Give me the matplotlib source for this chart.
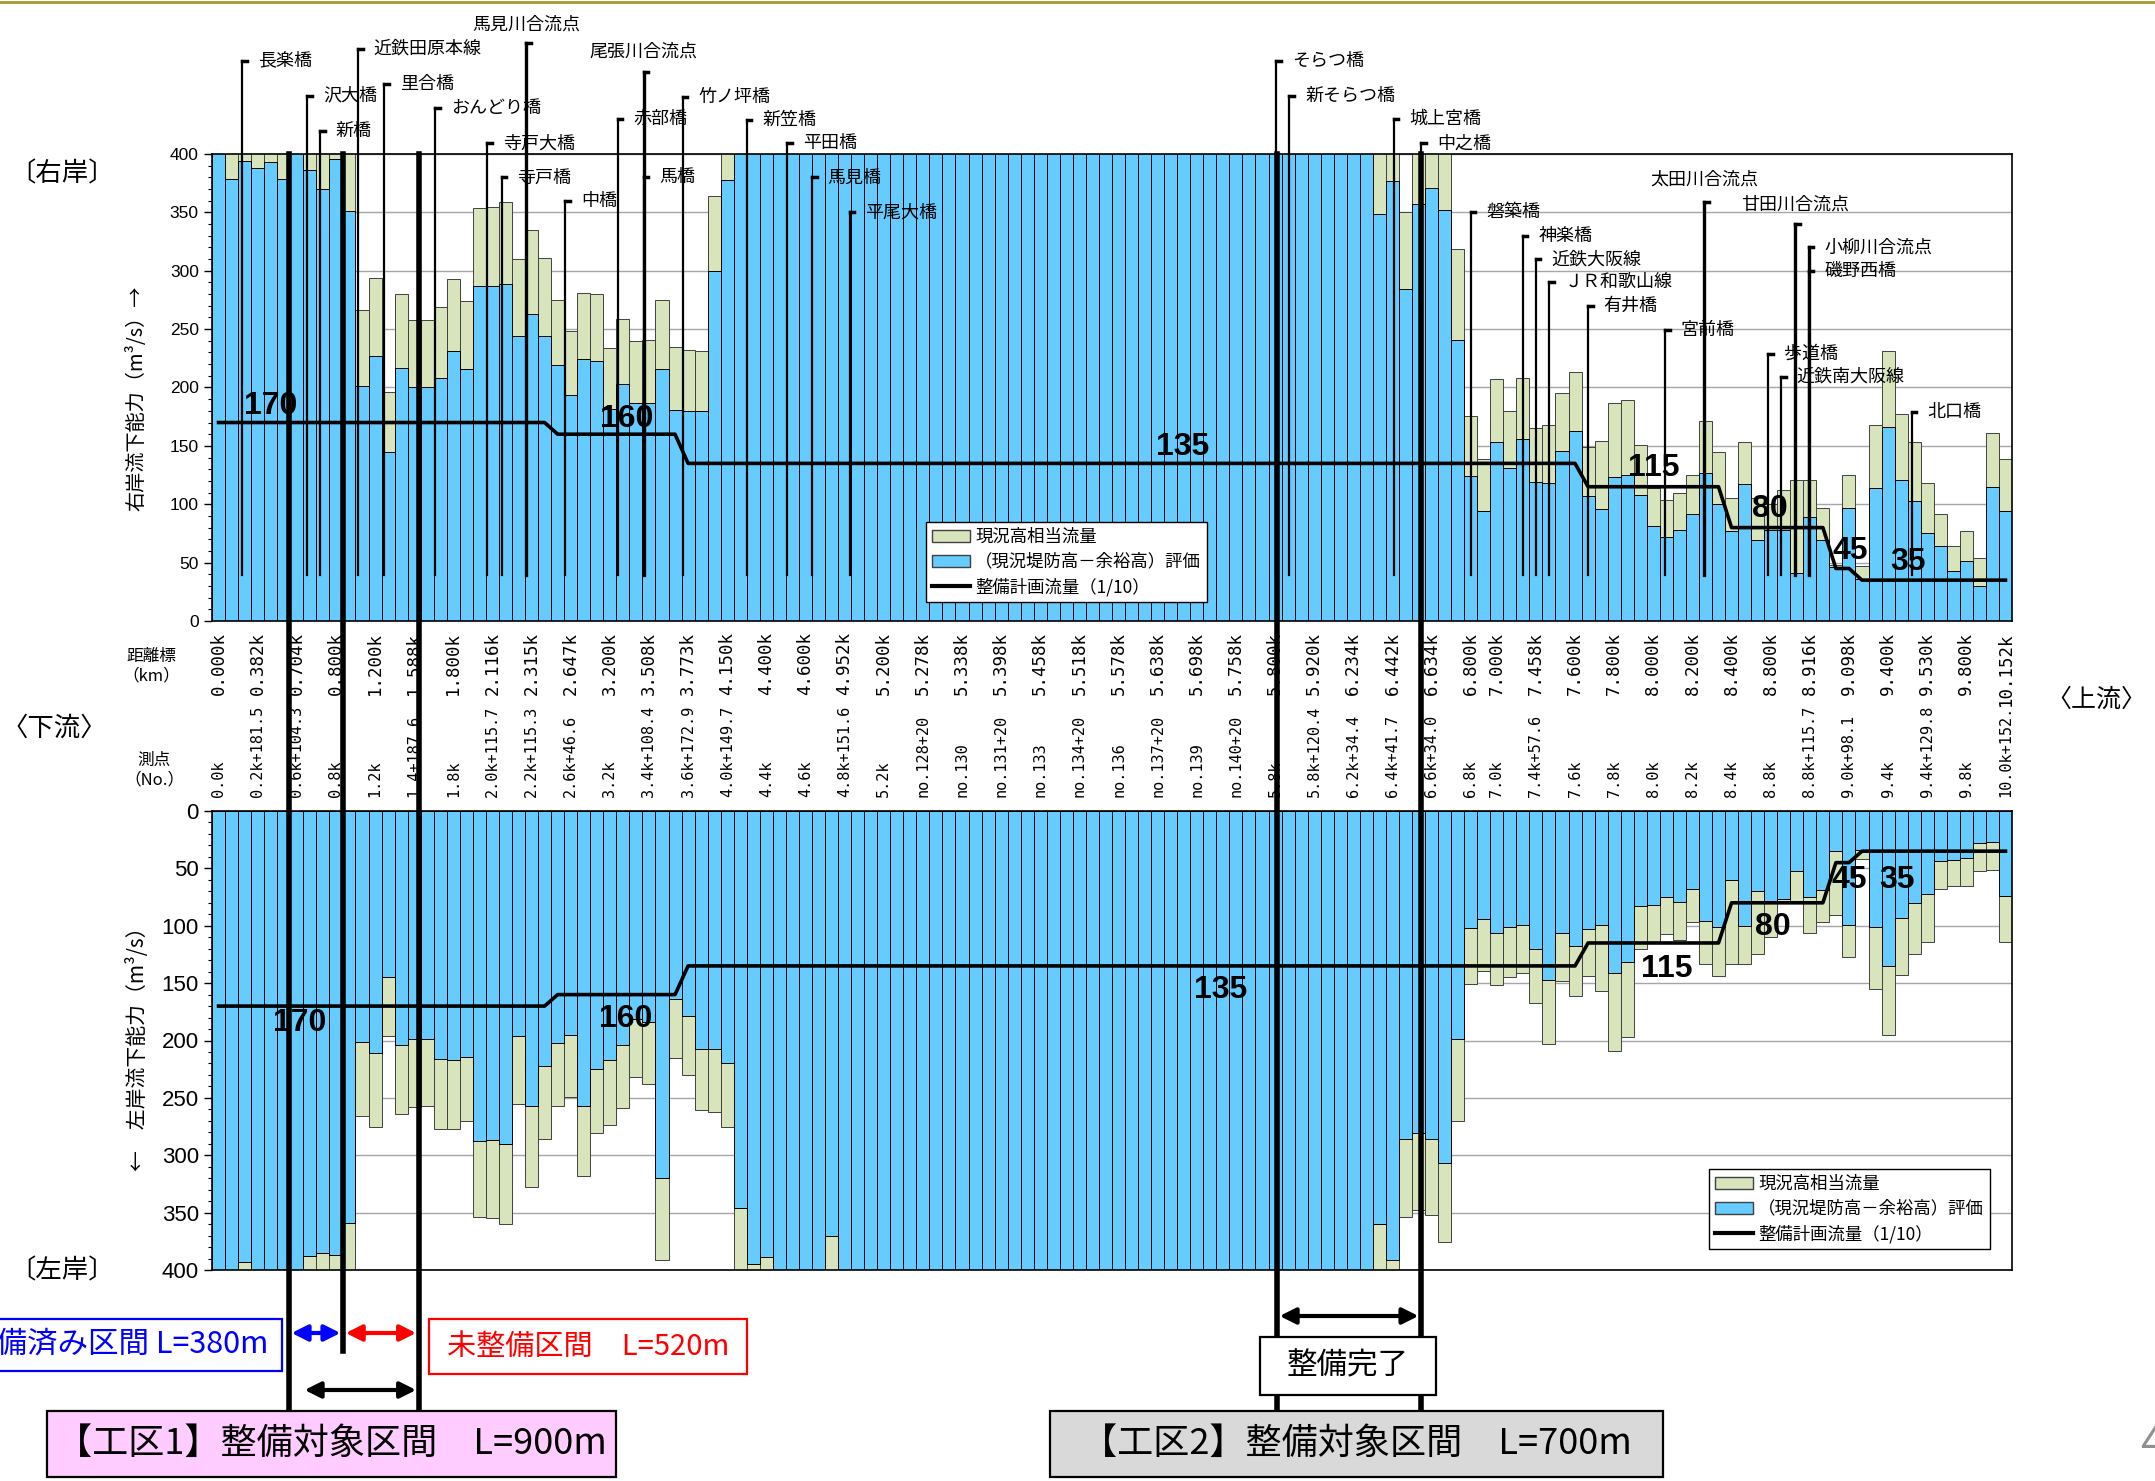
import matplotlib
matplotlib.use("Agg")
import matplotlib.pyplot as plt
import matplotlib.transforms as mtransforms
from matplotlib.patches import Patch, Rectangle
from matplotlib.lines import Line2D
from matplotlib.ticker import MultipleLocator

plt.rcParams['font.family'] = ['Noto Sans CJK JP', 'DejaVu Sans']
NARROW = ['Liberation Sans Narrow', 'DejaVu Sans Condensed', 'Liberation Sans']

# 距離標 / 測点 (shown on every 3rd section)
dist_labels = ['0.000k', '0.382k', '0.704k', '0.800k', '1.200k', '1.588k', '1.800k', '2.116k',
               '2.315k', '2.647k', '3.200k', '3.508k', '3.773k', '4.150k', '4.400k', '4.600k',
               '4.952k', '5.200k', '5.278k', '5.338k', '5.398k', '5.458k', '5.518k', '5.578k',
               '5.638k', '5.698k', '5.758k', '5.800k', '5.920k', '6.234k', '6.442k', '6.634k',
               '6.800k', '7.000k', '7.458k', '7.600k', '7.800k', '8.000k', '8.200k', '8.400k',
               '8.800k', '8.916k', '9.098k', '9.400k', '9.530k', '9.800k', '10.152k']
survey_labels = ['0.0k', '0.2k+181.5', '0.6k+104.3', '0.8k', '1.2k', '1.4+187.6', '1.8k',
                 '2.0k+115.7', '2.2k+115.3', '2.6k+46.6', '3.2k', '3.4k+108.4', '3.6k+172.9',
                 '4.0k+149.7', '4.4k', '4.6k', '4.8k+151.6', '5.2k', 'no.128+20', 'no.130',
                 'no.131+20', 'no.133', 'no.134+20', 'no.136', 'no.137+20', 'no.139', 'no.140+20',
                 '5.8k', '5.8k+120.4', '6.2k+34.4', '6.4k+41.7', '6.6k+34.0', '6.8k', '7.0k',
                 '7.4k+57.6', '7.6k', '7.8k', '8.0k', '8.2k', '8.4k', '8.8k', '8.8k+115.7',
                 '9.0k+98.1', '9.4k', '9.4k+129.8', '9.8k', '10.0k+152.']
label_bars = list(range(0, 97, 3)) + list(range(98, 138, 3))

# right bank (m3/s), values above 400 run off the chart
right_now = ([420, 420, 420, 420, 420, 420, 420, 420, 420, 420, 420,
              266, 294, 196, 280, 258, 258, 269, 293, 274,
              354, 355, 359, 310, 335, 311, 275, 248, 281, 280,
              234, 259, 240, 241, 275, 235, 232, 231, 364, 420]
             + [420] * 49 +
             [420, 420, 350, 420, 420, 420,
              319, 176, 139, 207, 180, 208, 165, 168, 195, 213,
              149, 154, 187, 189, 151, 114, 104, 110, 125, 171,
              145, 105, 153, 105, 100, 112, 121, 121, 97, 48,
              125, 47, 168, 231, 177, 153, 118, 92, 64, 77, 54, 161, 139])
right_eval = ([420, 379, 394, 388, 393, 379, 420, 386, 370, 396, 351,
               201, 227, 145, 217, 200, 200, 208, 231, 216,
               287, 287, 289, 244, 263, 244, 219, 194, 224, 223,
               182, 203, 187, 187, 216, 181, 180, 180, 300, 378]
              + [420] * 49 +
              [349, 377, 284, 357, 371, 352,
               241, 124, 94, 153, 131, 156, 119, 118, 146, 163,
               107, 96, 123, 125, 108, 81, 72, 78, 92, 127,
               100, 77, 117, 69, 78, 78, 41, 89, 69, 46,
               97, 36, 114, 166, 121, 103, 75, 64, 43, 51, 30, 115, 94])

# left bank (m3/s)
left_now = ([420, 420, 420, 420, 420, 420, 420, 420, 420, 420, 420,
             266, 275, 196, 264, 258, 257, 277, 277, 270,
             354, 355, 360, 255, 328, 286, 257, 249, 318, 281,
             274, 259, 232, 238, 391, 215, 230, 261, 262, 275]
            + [420] * 49 +
            [420, 420, 354, 348, 352, 376,
             270, 151, 139, 152, 145, 141, 167, 203, 148, 161,
             144, 157, 209, 197, 120, 114, 107, 112, 97, 133,
             144, 133, 133, 125, 110, 78, 78, 106, 97, 91,
             127, 42, 155, 195, 143, 125, 114, 68, 65, 65, 52, 51, 114])
left_eval = ([420, 420, 393, 420, 420, 399, 420, 388, 385, 387, 359,
              201, 211, 145, 204, 199, 199, 216, 217, 214,
              288, 287, 290, 196, 257, 222, 202, 195, 257, 225,
              217, 204, 181, 184, 320, 164, 179, 207, 207, 220]
             + [346, 395, 389, 420, 420, 420, 420, 370] + [420] * 41 +
             [360, 391, 286, 281, 286, 307,
              199, 102, 94, 106, 101, 99, 120, 147, 106, 118,
              103, 99, 141, 132, 83, 82, 75, 79, 68, 96,
              101, 60, 100, 70, 78, 77, 52, 75, 69, 35,
              99, 34, 101, 135, 93, 80, 72, 44, 43, 41, 28, 27, 74])

# 整備計画流量 (1/10)
plan_flow = [170] * 26 + [160] * 10 + [135] * 69 + [115] * 11 + [80] * 8 + [45] * 2 + [35] * 12
plan_marks = ['170', '160', '135', '115', '80', '45', '35']

KHAKI = '#D8E4BC'
BLUE = '#66CCFF'
W, H = 2155, 1481

fig = plt.figure(figsize=(21.55, 14.81), dpi=100)
ax1 = fig.add_axes([212 / W, 1 - 621 / H, 1800 / W, 467 / H])
ax2 = fig.add_axes([212 / W, 1 - 1270 / H, 1800 / W, 459 / H])

x = list(range(len(right_now)))
ax1.bar(x, right_now, width=1.0, color=KHAKI, edgecolor='#404040', linewidth=0.7, zorder=2)
ax1.bar(x, right_eval, width=1.0, color=BLUE, edgecolor='black', linewidth=0.7, zorder=3)
ax1.plot(x, plan_flow, color='black', lw=2.6, zorder=5)
ax2.bar(x, left_now, width=1.0, color=KHAKI, edgecolor='#404040', linewidth=0.7, zorder=2)
ax2.bar(x, left_eval, width=1.0, color=BLUE, edgecolor='black', linewidth=0.7, zorder=3)
ax2.plot(x, plan_flow, color='black', lw=2.6, zorder=5)

yticks = [0, 50, 100, 150, 200, 250, 300, 350, 400]
for ax in (ax1, ax2):
    ax.set_xlim(-0.5, 137.5)
    ax.set_ylim(0, 400)
    ax.set_xticks([])
    ax.yaxis.set_minor_locator(MultipleLocator(10))
    ax.tick_params(axis='y', which='major', length=6, width=1)
    ax.tick_params(axis='y', which='minor', length=3, width=0.8)
    ax.yaxis.grid(True, color='#A6A6A6', lw=1)
    ax.set_axisbelow(True)
    for s in ax.spines.values():
        s.set_zorder(4)
        s.set_linewidth(1.2)
ax1.set_yticks(yticks, labels=[str(v) for v in yticks], fontsize=12.5, fontfamily='Liberation Sans')
ax2.set_yticks(yticks, labels=[str(v) for v in yticks], fontsize=16, fontfamily=NARROW,
               fontstretch='condensed')
ax2.invert_yaxis()

# numbers on the plan line
top_marks = [(4.0, 171), (31.3, 160), (73.9, 136), (110, 118), (118.9, 83), (125.1, 47), (129.5, 38)]
for (mx, my), t in zip(top_marks, plan_marks):
    ax1.text(mx, my, t, ha='center', va='bottom', fontsize=23, fontweight='bold',
             fontfamily=NARROW, fontstretch='condensed', zorder=6)
bot_marks = [(6.2, 172), (31.2, 168), (76.8, 143), (111, 125), (119.2, 88), (125.0, 47), (128.7, 47)]
for (mx, my), t in zip(bot_marks, plan_marks):
    ax2.text(mx, my, t, ha='center', va='top', fontsize=23, fontweight='bold',
             fontfamily=NARROW, fontstretch='condensed', zorder=6)

# station labels between the two charts
tx = mtransforms.blended_transform_factory(ax1.transData, ax1.transAxes)
for b, d, s in zip(label_bars, dist_labels, survey_labels):
    ax1.text(b, -0.0236, d, transform=tx, rotation=90, ha='center', va='top',
             fontsize=12.5, fontfamily='DejaVu Sans Mono', clip_on=False)
    ax1.text(b, -0.377, s, transform=tx, rotation=90, ha='center', va='bottom',
             fontsize=11, fontfamily='DejaVu Sans Mono', clip_on=False)

# bridges and confluences
landmarks = [
    ('長楽橋', 1.8, 480, None), ('沢大橋', 6.8, 450, None), ('新橋', 7.8, 420, None),
    ('近鉄田原本線', 10.7, 490, None), ('里合橋', 12.7, 460, None), ('おんどり橋', 16.6, 439, None),
    ('寺戸大橋', 20.6, 409, None), ('寺戸橋', 21.7, 380, None), ('馬見川合流点', 23.6, 495, 511),
    ('中橋', 26.6, 360, None), ('赤部橋', 30.6, 430, None), ('尾張川合流点', 32.6, 470, 488),
    ('馬橋', 32.6, 380, None), ('竹ノ坪橋', 35.6, 449, None), ('新笠橋', 40.5, 429, None),
    ('平田橋', 43.6, 409, None), ('馬見橋', 45.5, 380, None), ('平尾大橋', 48.4, 350, None),
    ('そらつ橋', 81.1, 480, None), ('新そらつ橋', 82.1, 450, None), ('城上宮橋', 90.1, 430, None),
    ('中之橋', 92.2, 409, None), ('磐築橋', 96.0, 350, None), ('神楽橋', 100.0, 330, None),
    ('近鉄大阪線', 101.0, 310, None), ('ＪＲ和歌山線', 102.0, 290, None), ('有井橋', 105.0, 270, None),
    ('宮前橋', 110.9, 249, None), ('太田川合流点', 113.9, 359, 378), ('歩道橋', 118.8, 229, None),
    ('近鉄南大阪線', 119.8, 209, None), ('甘田川合流点', 120.9, 340, 357),
    ('小柳川合流点', 121.9, 320, None), ('磯野西橋', 121.9, 300, None), ('北口橋', 129.8, 179, None),
]
for name, lx, ltop, above in landmarks:
    lw = 2.4 if '合流点' in name else 1.6
    ax1.plot([lx, lx], [39, ltop], color='black', lw=lw, clip_on=False, zorder=6)
    ax1.plot([lx, lx + 0.35], [ltop, ltop], color='black', lw=2.5, clip_on=False, zorder=6)
    if above is None:
        ax1.text(lx + 1.2, ltop, name, ha='left', va='center', fontsize=13, clip_on=False, zorder=7)
    else:
        ax1.text(lx, above, name, ha='center', va='center', fontsize=13, clip_on=False, zorder=7)

# legends
handles = [Patch(facecolor=KHAKI, edgecolor='#404040', label='現況高相当流量'),
           Patch(facecolor=BLUE, edgecolor='#404040', label='（現況堤防高－余裕高）評価'),
           Line2D([0], [0], color='black', lw=3, label='整備計画流量（1/10）')]
for ax, anchor in ((ax1, (917 / W, 1 - 513 / H)), (ax2, (1700 / W, 1 - 1160 / H))):
    leg = ax.legend(handles=handles, loc='upper left', bbox_to_anchor=anchor,
                    bbox_transform=fig.transFigure, fontsize=12.5, fancybox=False,
                    edgecolor='black', framealpha=1, handlelength=2.2, handleheight=0.7,
                    borderpad=0.35, labelspacing=0.4, handletextpad=0.3)
    leg.get_frame().set_linewidth(1.0)
    leg.set_zorder(10)

# axis captions
fig.text(137 / W, 1 - 398 / H, '右岸流下能力（m³/s）→', rotation=90, ha='center', va='center', fontsize=14.5)
fig.text(137 / W, 1 - 1044 / H, '←　左岸流下能力（m³/s）', rotation=90, ha='center', va='center', fontsize=15)
fig.text(151 / W, 1 - 666 / H, '距離標\n（km）', ha='center', va='center', fontsize=12, linespacing=1.2)
fig.text(154 / W, 1 - 770 / H, '測点\n（No.）', ha='center', va='center', fontsize=12, linespacing=1.2)
fig.text(62 / W, 1 - 174 / H, '〔右岸〕', ha='center', va='center', fontsize=19)
fig.text(54 / W, 1 - 728 / H, '〈下流〉', ha='center', va='center', fontsize=19)
fig.text(62 / W, 1 - 1271 / H, '〔左岸〕', ha='center', va='center', fontsize=19)
fig.text(2096 / W, 1 - 700 / H, '〈上流〉', ha='center', va='center', fontsize=18)

# section boundaries
tf = mtransforms.blended_transform_factory(ax1.transData, fig.transFigure)
for bx, yb in [(5.4, 0.0473), (9.55, 0.0878), (15.35, 0.0473), (81.15, 0.0473), (92.2, 0.0473)]:
    fig.add_artist(Line2D([bx, bx], [1 - 154 / H, yb], transform=tf, color='black', lw=4, zorder=8))


def harrow(x0, x1, y, color):
    ax1.annotate('', xy=(x1, y), xytext=(x0, y), xycoords=tf, textcoords=tf, annotation_clip=False,
                 arrowprops=dict(arrowstyle='<|-|>', color=color, lw=3, mutation_scale=24,
                                 shrinkA=0, shrinkB=0), zorder=9)


harrow(5.6, 9.35, 1 - 1333 / H, '#0000FF')
harrow(9.75, 15.15, 1 - 1333 / H, '#FF0000')
harrow(6.6, 15.15, 1 - 1390 / H, 'black')
harrow(81.35, 92.0, 1 - 1316 / H, 'black')


def box(x0, x1, y0, y1, fc, ec, text, color, size):
    fig.add_artist(Rectangle((x0 / W, 1 - y1 / H), (x1 - x0) / W, (y1 - y0) / H,
                             transform=fig.transFigure, facecolor=fc, edgecolor=ec, lw=1.6, zorder=10))
    fig.text((x0 + x1) / 2 / W, 1 - (y0 + y1) / 2 / H, text, ha='center', va='center',
             color=color, fontsize=size, zorder=11)


fig.add_artist(Rectangle((-14 / W, 1 - 1371 / H), 296 / W, 52 / H, transform=fig.transFigure,
                         facecolor='white', edgecolor='#0000FF', lw=1.6, zorder=10))
fig.text(268 / W, 1 - 1345 / H, '整備済み区間 L=380m', ha='right', va='center',
         color='#0000FF', fontsize=22, zorder=11)
box(429, 747, 1319, 1374, 'white', '#FF0000', '未整備区間　L=520m', '#FF0000', 21)
box(47, 616, 1411, 1477, '#FFCCFF', 'black', '【工区1】整備対象区間　L=900m', 'black', 26)
box(1050, 1663, 1411, 1477, '#D9D9D9', 'black', '【工区2】整備対象区間　L=700m', 'black', 26)
box(1260, 1436, 1337, 1395, 'white', 'black', '整備完了', 'black', 22)

fig.add_artist(Line2D([0, 1], [1 - 2 / H, 1 - 2 / H], transform=fig.transFigure, color='#A89830', lw=2))
fig.text(2140 / W, 1 - 1445 / H, '4', ha='left', va='center', fontsize=30, color='#909090')

fig.savefig('out.png', dpi=100, facecolor='white')
